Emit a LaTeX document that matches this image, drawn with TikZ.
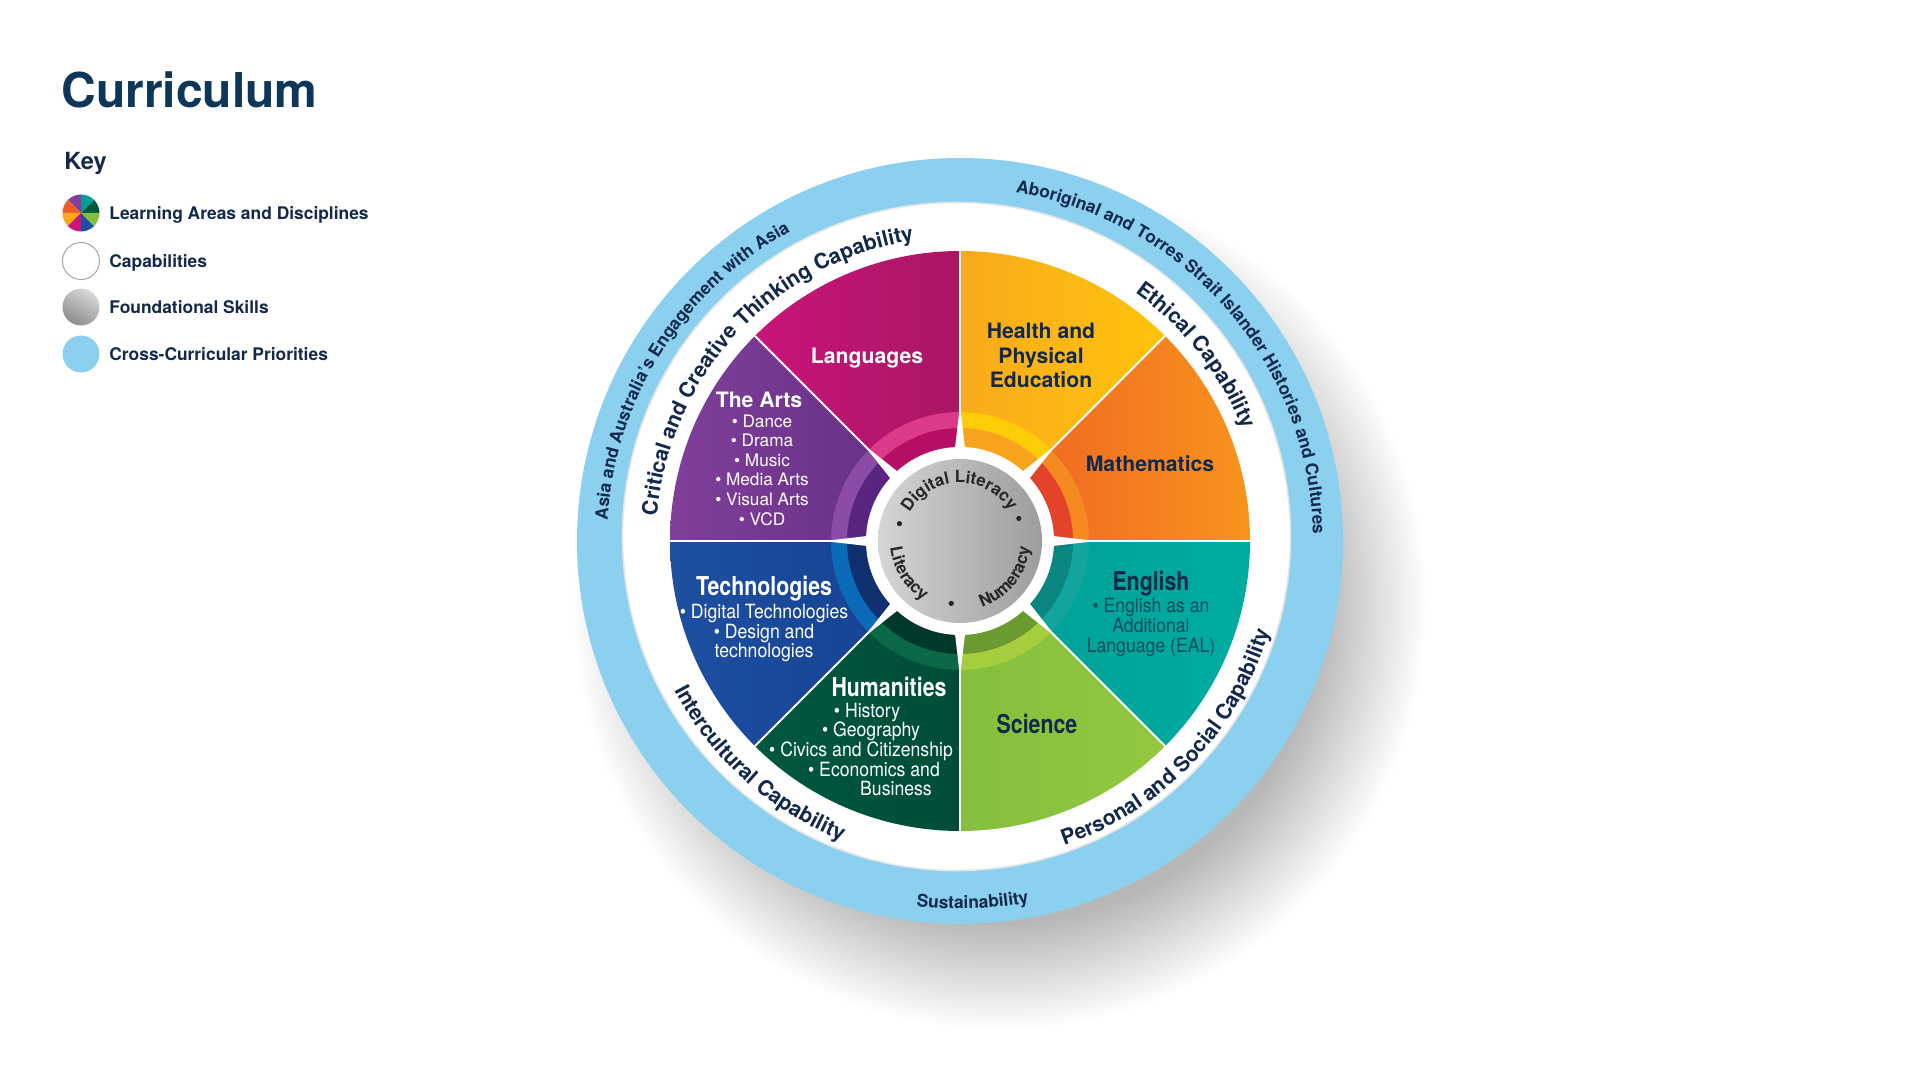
\documentclass[tikz,border=0pt]{standalone}
\usepackage{fontspec}
\setmainfont{TeX Gyre Heros}
\newfontfamily\condfont[FakeStretch=0.82]{TeX Gyre Heros}
\newfontfamily\itemfont[FakeStretch=0.9]{TeX Gyre Heros}
\usetikzlibrary{decorations.text}

\definecolor{navy}{HTML}{13294B}
\definecolor{titleblue}{HTML}{0E3659}
\definecolor{engtext}{HTML}{1B4A63}
\definecolor{sky}{HTML}{8BD0EF}
\definecolor{coreL}{HTML}{D4D5D7}
\definecolor{coreM}{HTML}{B6B7B9}
\definecolor{coreR}{HTML}{9C9D9F}
% learning areas: left/right shade, inner dark band, inner light band
\definecolor{mathA}{HTML}{EE5A24}\definecolor{mathB}{HTML}{F7941D}\definecolor{mathD}{HTML}{E2432A}\definecolor{mathL}{HTML}{F58A21}
\definecolor{hpeA}{HTML}{F9AA1C}\definecolor{hpeB}{HTML}{FFC40C}\definecolor{hpeD}{HTML}{F8A31E}\definecolor{hpeL}{HTML}{FFCC08}
\definecolor{langA}{HTML}{C8157A}\definecolor{langB}{HTML}{AA1663}\definecolor{langD}{HTML}{B50F64}\definecolor{langL}{HTML}{DC3A88}
\definecolor{artsA}{HTML}{803F9A}\definecolor{artsB}{HTML}{5F2B80}\definecolor{artsD}{HTML}{5A2580}\definecolor{artsL}{HTML}{8B4CA8}
\definecolor{techA}{HTML}{1E4FA1}\definecolor{techB}{HTML}{133F8E}\definecolor{techD}{HTML}{10306F}\definecolor{techL}{HTML}{0B6BB8}
\definecolor{humA}{HTML}{00583F}\definecolor{humB}{HTML}{004D37}\definecolor{humD}{HTML}{00392A}\definecolor{humL}{HTML}{0B6947}
\definecolor{sciA}{HTML}{84BF3E}\definecolor{sciB}{HTML}{93C83F}\definecolor{sciD}{HTML}{6A9A30}\definecolor{sciL}{HTML}{A4CE3E}
\definecolor{engA}{HTML}{009E95}\definecolor{engB}{HTML}{00ACA0}\definecolor{engD}{HTML}{0A8580}\definecolor{engL}{HTML}{13A59D}

\tikzstyle{heading}=[font=\bfseries\fontsize{24}{28}\selectfont, text=titleblue, inner sep=0pt, anchor=base west]
\tikzstyle{keyhead}=[font=\bfseries\fontsize{11.8}{14}\selectfont, text=navy, inner sep=0pt, anchor=base west]
\tikzstyle{keylabel}=[font=\bfseries\fontsize{8.7}{10}\selectfont, text=navy, inner sep=0pt, anchor=base west]
\tikzstyle{keyicon}=[circle, minimum size=18.5pt, inner sep=0pt]
\tikzstyle{areatitle}=[font=\bfseries\fontsize{10.6}{12.3}\selectfont, align=center, inner sep=0pt]
\tikzstyle{cntitle}=[font=\condfont\bfseries\fontsize{13}{14}\selectfont, align=center, inner sep=0pt]
\tikzstyle{areaitems}=[font=\fontsize{8.6}{9.8}\selectfont, align=center, inner sep=0pt, text=white]
\tikzstyle{cnitems}=[font=\itemfont\fontsize{9.8}{9.8}\selectfont, align=center, inner sep=0pt]
\tikzstyle{separator}=[draw=white, line width=1pt]

\newcommand{\ringfont}{\bfseries\fontsize{8.7}{10}\selectfont}
\newcommand{\capfont}{\bfseries\fontsize{10.6}{12}\selectfont}
\newcommand{\corefont}{\bfseries\fontsize{8.4}{10}\selectfont}
% text over the top (clockwise) and under the bottom (anticlockwise)
\newcommand{\toparc}[6]{\path[decorate, decoration={text along path, text align=center, text color=#5, text={|#4|#6}}]
  (#1+#3:#2) arc[start angle=#1+#3, end angle=#1-#3, radius=#2];}
\newcommand{\botarc}[6]{\path[decorate, decoration={text along path, text align=center, text color=#5, text={|#4|#6}}]
  (#1-#3:#2) arc[start angle=#1-#3, end angle=#1+#3, radius=#2];}

\begin{document}
\begin{tikzpicture}[x=0.5pt, y=0.5pt]
    \useasboundingbox (0,0) rectangle (1920,-1080);
    \fill[white] (0,0) rectangle (1920,-1080);

    % heading and key
    \node[heading] (title) at (61,-108) {Curriculum};
    \node[keyhead] (key) at (64,-170) {Key};
    \begin{scope}[shift={(81,-213)}]
        \foreach \a/\c in {0/humA, 45/engA, 90/artsA, 135/mathA, 180/hpeA, 225/langA, 270/techA, 315/sciA}
            \fill[\c] (0,0) -- (\a:18.5) arc[start angle=\a, end angle=\a+45, radius=18.5] -- cycle;
    \end{scope}
    \node[keyicon, draw=black!35, line width=0.5pt, fill=white] (capicon) at (81,-261) {};
    \node[keyicon, top color=black!15, bottom color=black!45, shading angle=-30] (skillicon) at (81,-307) {};
    \node[keyicon, fill=sky] (ccpicon) at (81,-354) {};
    \node[keylabel] (arealbl) at (109,-219.5) {Learning Areas and Disciplines};
    \node[keylabel] (caplbl) at (109,-267.5) {Capabilities};
    \node[keylabel] (skilllbl) at (109,-314) {Foundational Skills};
    \node[keylabel] (ccplbl) at (109,-360.5) {Cross-Curricular Priorities};

    % the wheel
    \begin{scope}[shift={(960,-541)}]
        \foreach \k in {0,...,23}
            \fill[black, opacity=0.01] (40,-62) circle[radius=322+4.5*\k];
        \fill[sky] (0,0) circle[radius=383];
        \fill[white, draw=black!10, line width=0.8pt] (-3.5,4.5) circle[radius=334];

        \foreach \a/\ca/\cb/\cd/\cl in {0/mathA/mathB/mathD/mathL, 45/hpeA/hpeB/hpeD/hpeL, 90/langA/langB/langD/langL, 135/artsA/artsB/artsD/artsL,
                180/techA/techB/techD/techL, 225/humA/humB/humD/humL, 270/sciA/sciB/sciD/sciL, 315/engA/engB/engD/engL} {
            \shade[left color=\ca, right color=\cb] (0,0) -- (\a:290) arc[start angle=\a, end angle=\a+45, radius=290] -- cycle;
            \fill[\cl] (\a:94) -- (\a:129) arc[start angle=\a, end angle=\a+45, radius=129] -- (\a+45:94) arc[start angle=\a+45, end angle=\a, radius=94] -- cycle;
            \fill[\cd] (\a:94) -- (\a:113) arc[start angle=\a, end angle=\a+45, radius=113] -- (\a+45:94) arc[start angle=\a+45, end angle=\a, radius=94] -- cycle;
        }
        \foreach \a in {0,45,...,315} {
            \draw[separator] (0,0) -- (\a:290);
            \fill[white] (\a-3.2:92) -- (\a:136) -- (\a+3.2:92) -- cycle;
        }

        % foundational skills
        \node[circle, fill=white, minimum size=94pt, inner sep=0pt] (corering) at (0,0) {};
        \node[circle, left color=coreL, middle color=coreM, right color=coreR, minimum size=82pt, inner sep=0pt] (core) at (0,0) {};
        \foreach \a in {164,21,262}
            \fill[black!85] (\a:63) circle[radius=2.6];
        \toparc{91}{58}{80}{\corefont}{black!85}{Digital Literacy}
        \botarc{212}{70}{45}{\corefont}{black!85}{Literacy}
        \botarc{-38.5}{70}{50}{\corefont}{black!85}{Numeracy}

        % learning areas
        \node[areatitle, text=white] (lang) at (-93,182.5) {Languages};
        \node[areatitle, text=navy] (hpe) at (81,185.5) {Health and\\Physical\\Education};
        \node[areatitle, text=navy] (math) at (190,77) {Mathematics};
        \node[areatitle, text=white] (arts) at (-201,141) {The Arts};
        \node[areaitems] (artsitems) at (-198,71) {• Dance\\• Drama\\• Music\\• Media Arts\\• Visual Arts\\• VCD};
        \node[cntitle, text=white] (tech) at (-196,-48) {Technologies};
        \node[cnitems, text=white] (techitems) at (-196,-92) {• Digital Technologies\\• Design and\\technologies};
        \node[cntitle, text=white] (hum) at (-71,-146) {Humanities};
        \node[cnitems, text=white] (humitems) at (-99,-208.5) {\hspace*{6pt}• History\\\hspace*{10pt}• Geography\\• Civics and Citizenship\\\hspace*{13pt}• Economics and\\\hspace*{35pt}Business};
        \node[cntitle, text=navy] (sci) at (77,-183) {Science};
        \node[cntitle, text=navy] (eng) at (191,-43) {English};
        \node[cnitems, text=engtext] (engitems) at (191,-86.5) {• English as an\\Additional\\Language (EAL)};

        % capabilities and priorities
        \toparc{147.7}{353}{40}{\ringfont}{navy}{Asia and Australia's Engagement with Asia}
        \toparc{41}{353}{50}{\ringfont}{navy}{Aboriginal and Torres Strait Islander Histories and Cultures}
        \toparc{137}{304}{50}{\capfont}{navy}{Critical and Creative Thinking Capability}
        \toparc{38.2}{304}{30}{\capfont}{navy}{Ethical Capability}
        \botarc{228}{322}{35}{\capfont}{navy}{Intercultural Capability}
        \botarc{-43.7}{322}{40}{\capfont}{navy}{Personal and Social Capability}
        \botarc{-88}{368}{20}{\ringfont}{navy}{Sustainability}
    \end{scope}
\end{tikzpicture}
\end{document}
